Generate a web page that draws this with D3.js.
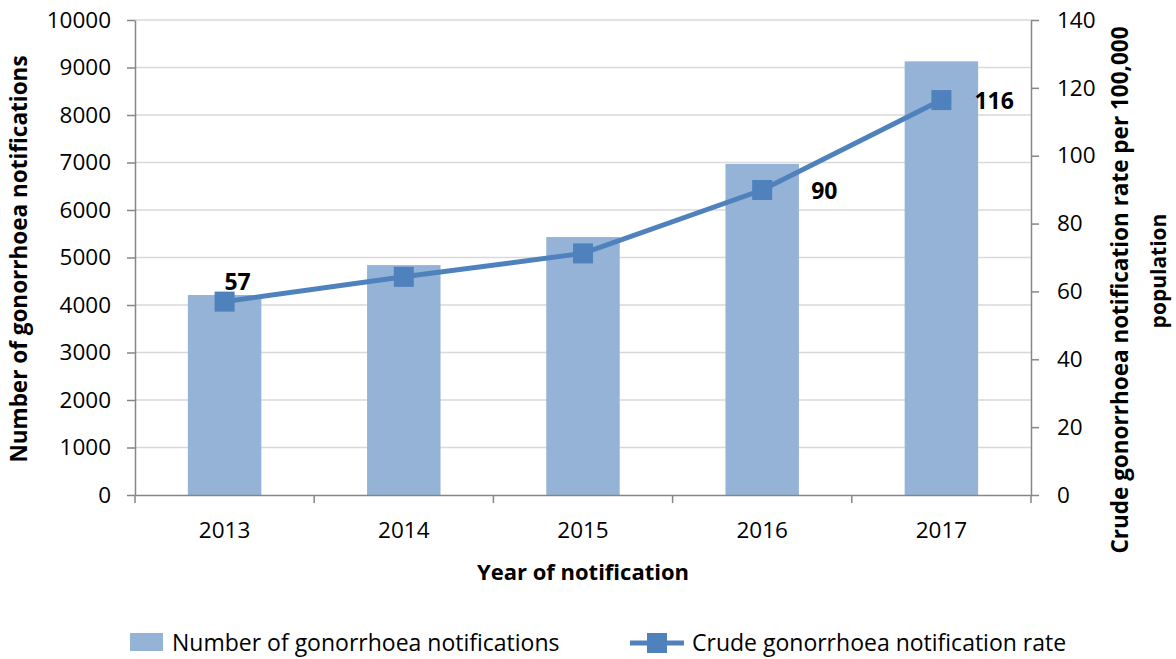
<!DOCTYPE html>
<html>
<head>
<meta charset="utf-8">
<script src="https://cdn.jsdelivr.net/npm/d3@7"></script>
<style>
  body { margin: 0; background: #fff; }
  svg text { font-family: "Open Sans", "Noto Sans", sans-serif; fill: #000; }
</style>
</head>
<body>
<script>
// chart data
const years = ["2013", "2014", "2015", "2016", "2017"];
const notifications = [4210, 4840, 5430, 6970, 9130];
const rates = [57, 64.3, 71.2, 89.9, 116.4];
const rateLabels = ["57", "", "", "90", "116"];
const leftTicks = [0, 1000, 2000, 3000, 4000, 5000, 6000, 7000, 8000, 9000, 10000];
const rightTicks = [0, 20, 40, 60, 80, 100, 120, 140];

const W = 1176, H = 659;
const plot = { left: 135, right: 1031, top: 20, bottom: 495 };
const barColor = "#95b3d7", lineColor = "#4f81bd", axisColor = "#868686", gridColor = "#d9d9d9";

const svg = d3.select("body").append("svg")
    .attr("width", W)
    .attr("height", H);

const x = d3.scaleBand()
    .domain(years)
    .range([plot.left, plot.right])
    .padding(0);

const yLeft = d3.scaleLinear()
    .domain([0, 10000])
    .range([plot.bottom, plot.top]);

const yRight = d3.scaleLinear()
    .domain([0, 140])
    .range([plot.bottom, plot.top]);

// gridlines
svg.append("g")
    .selectAll("line")
    .data(leftTicks.filter(d => d > 0))
    .enter().append("line")
    .attr("x1", plot.left).attr("x2", plot.right)
    .attr("y1", d => yLeft(d)).attr("y2", d => yLeft(d))
    .attr("stroke", gridColor).attr("stroke-width", 1.5);

// bars
const barW = x.bandwidth() * 0.41;
svg.append("g")
    .selectAll("rect")
    .data(years)
    .enter().append("rect")
    .attr("x", d => x(d) + (x.bandwidth() - barW) / 2)
    .attr("width", barW)
    .attr("y", (d, i) => yLeft(notifications[i]))
    .attr("height", (d, i) => plot.bottom - yLeft(notifications[i]))
    .attr("fill", barColor);

// left axis
const gl = svg.append("g")
    .attr("transform", "translate(" + plot.left + ",0)")
    .call(d3.axisLeft(yLeft).tickValues(leftTicks).tickFormat(d3.format("d"))
        .tickSize(8).tickPadding(16).tickSizeOuter(0));

// right axis
const gr = svg.append("g")
    .attr("transform", "translate(" + plot.right + ",0)")
    .call(d3.axisRight(yRight).tickValues(rightTicks).tickFormat(d3.format("d"))
        .tickSize(8).tickPadding(18).tickSizeOuter(0));

// bottom axis (labels only, ticks at category edges)
const gb = svg.append("g")
    .attr("transform", "translate(0," + plot.bottom + ")")
    .call(d3.axisBottom(x).tickSize(0).tickPadding(27).tickSizeOuter(0));

gb.selectAll(".edge")
    .data(d3.range(years.length + 1))
    .enter().append("line")
    .attr("class", "edge")
    .attr("x1", i => plot.left + i * x.step())
    .attr("x2", i => plot.left + i * x.step())
    .attr("y1", 0).attr("y2", 8)
    .attr("stroke", axisColor).attr("stroke-width", 1.5);

[gl, gr, gb].forEach(g => {
    g.select(".domain").attr("stroke", axisColor).attr("stroke-width", 1.5);
    g.selectAll(".tick line").attr("stroke", axisColor).attr("stroke-width", 1.5);
    g.selectAll(".tick text")
        .attr("font-family", "'Open Sans', 'Noto Sans', sans-serif")
        .attr("font-size", 22.5)
        .attr("fill", "#000");
});

// rate line
const line = d3.line()
    .x((d, i) => x(years[i]) + x.bandwidth() / 2)
    .y(d => yRight(d));

svg.append("path")
    .datum(rates)
    .attr("d", line)
    .attr("fill", "none")
    .attr("stroke", lineColor)
    .attr("stroke-width", 5);

const mk = 20;
svg.append("g")
    .selectAll("rect")
    .data(rates)
    .enter().append("rect")
    .attr("x", (d, i) => x(years[i]) + x.bandwidth() / 2 - mk / 2)
    .attr("y", d => yRight(d) - mk / 2)
    .attr("width", mk).attr("height", mk)
    .attr("fill", lineColor);

// data labels
const labelOffsets = [
    { dx: 13, dy: -12, anchor: "middle" },
    null, null,
    { dx: 49, dy: 9, anchor: "start" },
    { dx: 33, dy: 9, anchor: "start" }
];
const labelled = years.map((y, i) => ({ i: i, text: rateLabels[i], off: labelOffsets[i] }))
    .filter(d => d.text !== "");
svg.append("g")
    .selectAll("text")
    .data(labelled)
    .enter().append("text")
    .attr("x", d => x(years[d.i]) + x.bandwidth() / 2 + d.off.dx)
    .attr("y", d => yRight(rates[d.i]) + d.off.dy)
    .attr("text-anchor", d => d.off.anchor)
    .attr("font-size", 23)
    .attr("font-weight", "bold")
    .text(d => d.text);

// axis titles
svg.append("text")
    .attr("transform", "translate(27,259) rotate(-90)")
    .attr("text-anchor", "middle")
    .attr("font-size", 22.5)
    .attr("font-weight", "bold")
    .text("Number of gonorrhoea notifications");

svg.append("text")
    .attr("transform", "translate(1128,290) rotate(-90)")
    .attr("text-anchor", "middle")
    .attr("font-size", 22.5)
    .attr("font-weight", "bold")
    .text("Crude gonorrhoea notification rate per 100,000");

svg.append("text")
    .attr("transform", "translate(1166,271) rotate(-90)")
    .attr("text-anchor", "middle")
    .attr("font-size", 21)
    .attr("font-weight", "bold")
    .text("population");

svg.append("text")
    .attr("x", (plot.left + plot.right) / 2)
    .attr("y", 580)
    .attr("text-anchor", "middle")
    .attr("font-size", 22)
    .attr("font-weight", "bold")
    .text("Year of notification");

// legend
const lg = svg.append("g");
lg.append("rect")
    .attr("x", 130).attr("y", 633).attr("width", 33).attr("height", 18)
    .attr("fill", barColor);
lg.append("text")
    .attr("x", 172).attr("y", 651)
    .attr("font-size", 23)
    .text("Number of gonorrhoea notifications");
lg.append("line")
    .attr("x1", 630).attr("x2", 684).attr("y1", 643).attr("y2", 643)
    .attr("stroke", lineColor).attr("stroke-width", 5);
lg.append("rect")
    .attr("x", 647).attr("y", 633).attr("width", 20).attr("height", 20)
    .attr("fill", lineColor);
lg.append("text")
    .attr("x", 692).attr("y", 651)
    .attr("font-size", 23)
    .text("Crude gonorrhoea notification rate");
</script>
</body>
</html>
